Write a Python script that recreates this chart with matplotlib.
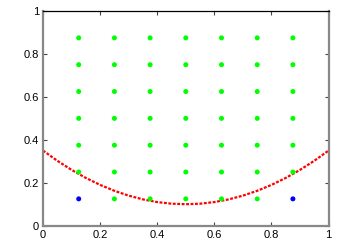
import matplotlib
matplotlib.use("Agg")
import matplotlib.pyplot as plt

green_x = [0.125, 0.25, 0.375, 0.5, 0.625, 0.75, 0.875]
green_y = [0.25, 0.375, 0.5, 0.625, 0.75, 0.875]
green_bottom_x = [0.25, 0.375, 0.5, 0.625, 0.75]
bottom_y = 0.125
blue_x = [0.125, 0.875]
blue_y = [0.125, 0.125]

curve_x = [0.0, 0.05, 0.1, 0.15, 0.2, 0.25, 0.3, 0.35, 0.4, 0.45, 0.5,
           0.55, 0.6, 0.65, 0.7, 0.75, 0.8, 0.85, 0.9, 0.95, 1.0]
curve_y = [0.35, 0.3025, 0.26, 0.2225, 0.19, 0.1625, 0.14, 0.1225, 0.11, 0.1025, 0.1,
           0.1025, 0.11, 0.1225, 0.14, 0.1625, 0.19, 0.2225, 0.26, 0.3025, 0.35]

ticks = [0, 0.2, 0.4, 0.6, 0.8, 1]
tick_labels = ["0", "0.2", "0.4", "0.6", "0.8", "1"]

plt.rcParams['font.family'] = ['Liberation Sans', 'DejaVu Sans']
fig = plt.figure(figsize=(3.43, 2.45), dpi=100)
ax = fig.add_axes([0.1254, 0.0788, 0.958 - 0.1254, 0.955 - 0.0788])

gx, gy = [], []
for y in green_y:
    for x in green_x:
        gx.append(x)
        gy.append(y)
for x in green_bottom_x:
    gx.append(x)
    gy.append(bottom_y)

ax.plot(curve_x, curve_y, color='#ff0000', lw=1.6, linestyle=(0, (1.3, 0.7)), zorder=2)
ax.scatter(gx, gy, s=13, color='#00ff00', edgecolors='none', zorder=3)
ax.scatter(blue_x, blue_y, s=13, color='#0000ff', edgecolors='none', zorder=3)

ax.set_xlim(0, 1)
ax.set_ylim(0, 1)
ax.set_xticks(ticks)
ax.set_xticklabels(tick_labels)
ax.set_yticks(ticks)
ax.set_yticklabels(tick_labels)
ax.tick_params(direction='in', length=3, width=0.8, labelsize=8, color='#444444',
               top=True, right=True, pad=3)
for side in ['left', 'bottom', 'right']:
    ax.spines[side].set_color('#888888')
    ax.spines[side].set_linewidth(1.6)
ax.spines['top'].set_color('black')
ax.spines['top'].set_linewidth(0.9)

fig.savefig('out.png', dpi=100)
